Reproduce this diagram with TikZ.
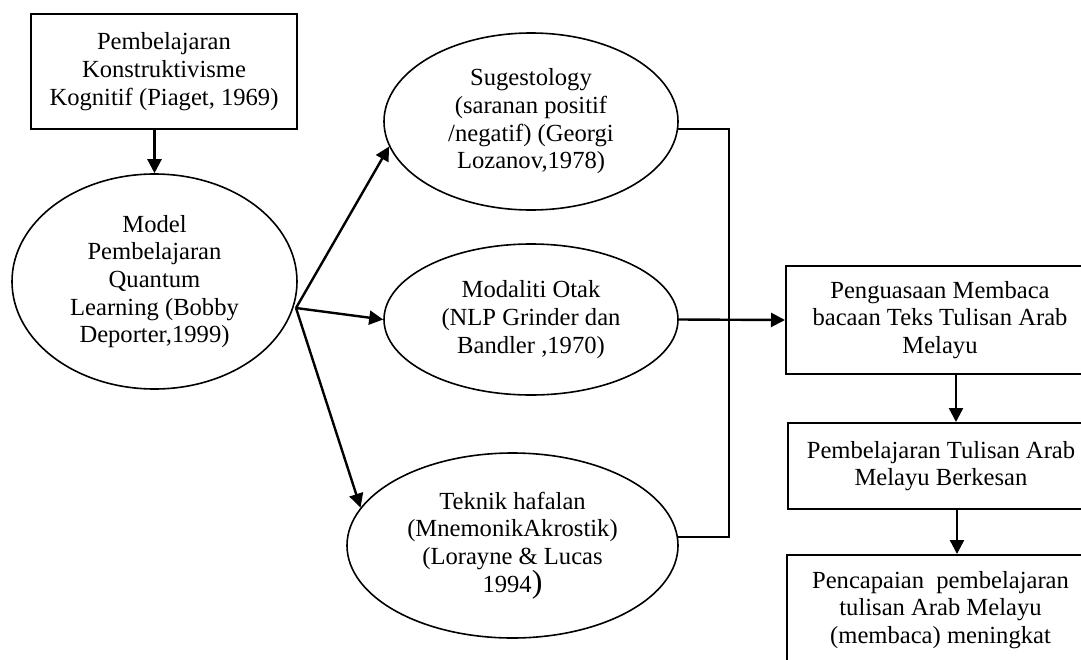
\documentclass[tikz,border=0pt]{standalone}
\usepackage{fontspec}
\setmainfont{Liberation Serif}
\usetikzlibrary{shapes.geometric,arrows.meta,calc}
\tikzset{
  lbl/.style={font=\fontsize{12.3}{13.85}\selectfont, align=center, inner sep=0pt},
  boxn/.style={lbl, draw, line width=1pt, rectangle},
  elln/.style={lbl, draw, line width=0.8pt, ellipse},
  arr/.style={line width=1.2pt, -{Triangle[length=7pt,width=7pt]}},
  conn/.style={line width=1pt},
}
\begin{document}
\begin{tikzpicture}[x=0.5pt,y=-0.5pt]
\useasboundingbox (0,0) rectangle (1081,659);
\clip (0,0) rectangle (1081,659);
\node[boxn, minimum width=133pt, minimum height=57.5pt] (kb) at (164,71.5)
  {Pembelajaran\\Konstruktivisme\\Kognitif (Piaget, 1969)};
\node[elln, minimum width=142.5pt, minimum height=107.5pt] (m) at (154.5,281.5)
  {Model\\Pembelajaran\\Quantum\\Learning (Bobby\\Deporter,1999)};
\node[elln, minimum width=147pt, minimum height=88.5pt] (s) at (531,121.5)
  {Sugestology\\(saranan positif\\/negatif) (Georgi\\Lozanov,1978)};
\node[elln, minimum width=147pt, minimum height=75.5pt] (o) at (531,319.5)
  {Modaliti Otak\\(NLP Grinder dan\\Bandler ,1970)};
\node[elln, minimum width=165.5pt, minimum height=92.5pt] (t) at (512.5,545.5)
  {Teknik hafalan\\(MnemonikAkrostik)\\(Lorayne \& Lucas\\1994{\fontsize{16}{16}\selectfont)}};
\node[boxn, minimum width=154pt, minimum height=54pt] (pa) at (940,320)
  {Penguasaan Membaca\\bacaan Teks Tulisan Arab\\Melayu};
\node[boxn, minimum width=153pt, minimum height=43pt] (pb) at (941,466)
  {Pembelajaran Tulisan Arab\\Melayu Berkesan};
\node[boxn, minimum width=153.5pt, minimum height=55pt] (pc) at (940.5,610)
  {Pencapaian~~pembelajaran\\tulisan Arab Melayu\\(membaca) meningkat};
\coordinate (fan) at (296,308);
\coordinate (j) at (729,319);
\draw[arr] (m.north |- kb.south) -- (m.north);
\draw[arr] (fan) -- (s.190);
\draw[arr] (fan) -- (o.west);
\draw[arr] (fan) -- (t.166);
\draw[conn] (s.-3) -| (j);
\draw[conn] (t.3) -| (j);
\draw[arr] (o.east) -- (pa.west);
\draw[arr] ([xshift=8pt]pa.south) -- ([xshift=8pt]pa.south |- pb.north);
\draw[arr] ([xshift=8pt]pb.south) -- ([xshift=8pt]pb.south |- pc.north);
\end{tikzpicture}
\end{document}
